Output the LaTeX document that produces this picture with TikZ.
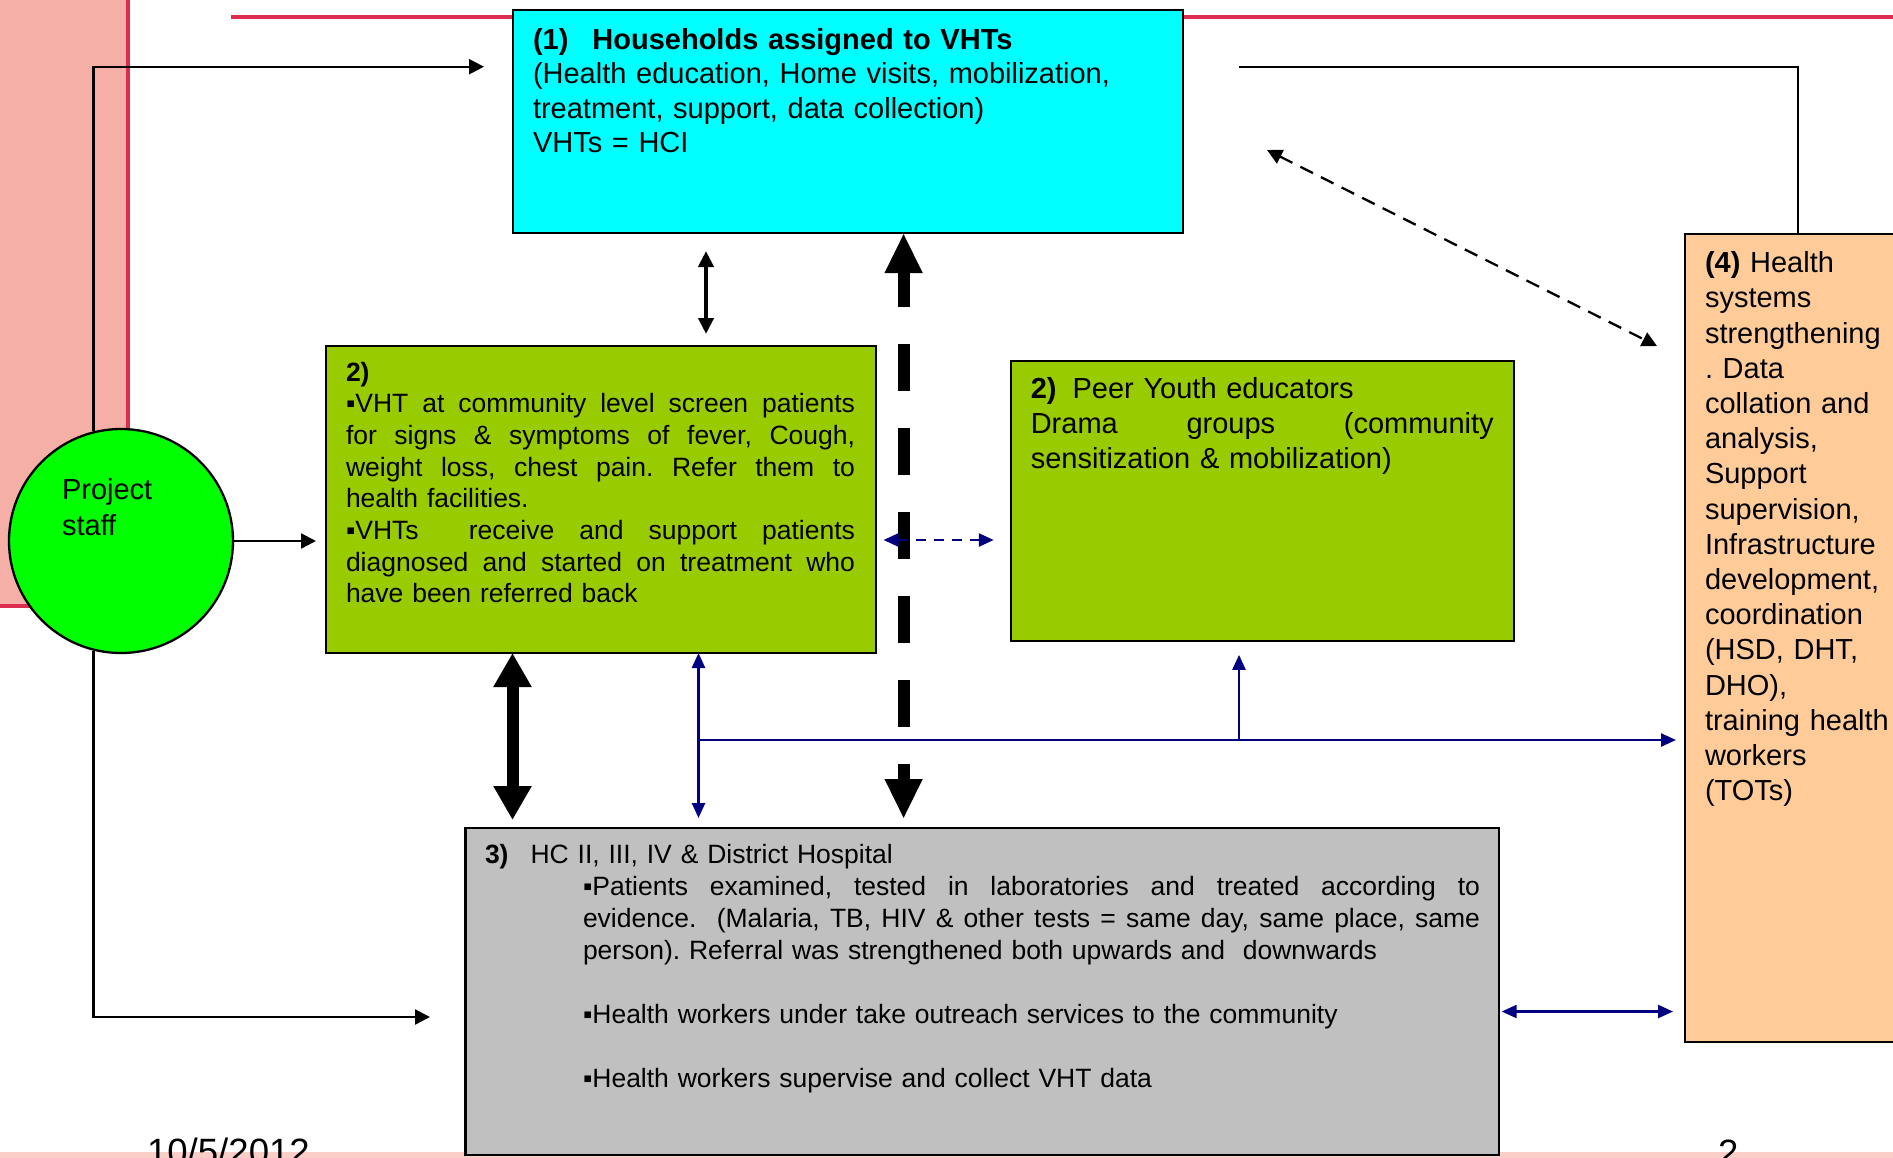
\documentclass[tikz,border=0pt]{standalone}
\usepackage{fontspec}
\setmainfont{Liberation Sans}
\usetikzlibrary{arrows.meta,calc}
\frenchspacing
\definecolor{cyanbox}{HTML}{00FFFF}
\definecolor{greenbox}{HTML}{99CC00}
\definecolor{greyb}{HTML}{C0C0C0}
\definecolor{orangeb}{HTML}{FFCC99}
\definecolor{circg}{HTML}{00FF00}
\definecolor{pinkr}{HTML}{F5AFA6}
\definecolor{redl}{HTML}{DC2C50}
\definecolor{navyb}{HTML}{000080}
\definecolor{footp}{HTML}{F9CFC8}
\newcommand\myfs[2]{\fontsize{#1pt}{#2pt}\selectfont}
\newcommand\jline[2]{\makebox[#1][s]{\spaceskip=0pt\xspaceskip=0pt\relax #2}}
\tikzset{
 box/.style={draw=black,line width=2.5pt,inner sep=0pt,outer sep=0pt},
 txt/.style={inner sep=0pt,outer sep=0pt,anchor=base west},
 thinblk/.style={draw=black,line width=2.3pt},
 tipa/.style={arrows={-Triangle[length=15pt,width=15pt]}},
 navyline/.style={draw=navyb,line width=2.5pt},
 navyone/.style={arrows={-Triangle[length=15pt,width=13pt]}},
 navytwo/.style={arrows={Triangle[length=15pt,width=13pt]-Triangle[length=15pt,width=13pt]}},
}
\begin{document}
\begin{tikzpicture}[x=1pt,y=-1pt]
\useasboundingbox (0,0) rectangle (1893,1157);
% background decoration
\fill[pinkr] (-10,-10) rectangle (128,606);
\draw[redl,line width=4pt] (128,-10) -- (128,606) -- (-10,606);
\draw[redl,line width=4pt] (231,17) -- (1900,17);
\fill[footp] (-5,1152) rectangle (1900,1165);

% boxes
\node[box,fill=cyanbox,minimum width=670pt,minimum height=223pt] (hh) at (848,121.5) {};
\node[box,fill=greenbox,minimum width=550pt,minimum height=307pt] (g1) at (601,499.5) {};
\node[box,fill=greenbox,minimum width=503pt,minimum height=280pt] (g2) at (1262.25,500.85) {};
\node[box,fill=greyb,minimum width=1033.5pt,minimum height=327pt] (hc) at (982.25,991.5) {};
\node[box,fill=orangeb,minimum width=220pt,minimum height=808pt] (hs) at (1795,638) {};
\node[circle,draw=black,line width=2.3pt,fill=circg,minimum size=224pt,inner sep=0pt] (staff) at (121,541) {};

% coordinates
\coordinate (ta) at (484,66.7);
\coordinate (tb) at (430,1017);
\coordinate (tc) at (1239,66.7);
\coordinate (td) at (1798,66.7);
\coordinate (da) at (1267,150);
\coordinate (db) at (1657,346);
\coordinate (xsm) at (706,0);
\coordinate (xbig) at (903.6,0);
\coordinate (xthick) at (512.5,0);
\coordinate (xblue) at (698.5,0);
\coordinate (bj) at (698.5,740);
\coordinate (bu) at (1239,740);
\coordinate (bd) at (0,540);
\coordinate (be) at (0,1011.5);

% black connectors
\draw[thinblk,tipa] (staff.104) |- (ta);
\draw[thinblk,tipa,shorten >=10pt] (staff.east) -- (g1.west |- staff.east);
\draw[thinblk,tipa] (staff.256) |- (tb);
\draw[thinblk] (tc) -- (td) -- (td |- hs.north);
\draw[thinblk,dash pattern=on 14pt off 9pt,arrows={Triangle[length=15pt,width=15pt]-Triangle[length=15pt,width=15pt]}] (da) -- (db);
\draw[draw=black,line width=4pt,arrows={Triangle[length=16pt,width=15pt]-Triangle[length=16pt,width=15pt]},shorten <=18pt,shorten >=12pt] (hh.south -| xsm) -- (g1.north -| xsm);
\draw[draw=black,line width=12pt,dash pattern=on 47pt off 37pt,dash phase=11pt,arrows={Triangle[length=40pt,width=35pt]-Triangle[length=40pt,width=35pt]},shorten >=9pt] (hh.south -| xbig) -- (hc.north -| xbig);
\draw[draw=black,line width=12pt,arrows={Triangle[length=34pt,width=36pt]-Triangle[length=34pt,width=36pt]},shorten >=8pt] (g1.south -| xthick) -- (hc.north -| xthick);

% navy connectors
\draw[navyline,navytwo,shorten >=10pt] (g1.south -| xblue) -- (hc.north -| xblue);
\draw[navyline,navyone,shorten >=9pt] (bj) -- (hs.west |- bj);
\draw[navyline,navyone,shorten >=14pt] (bu) -- (bu |- g2.south);
\draw[navyline,navytwo,dash pattern=on 10pt off 8pt,shorten <=7.5pt,shorten >=17pt] (g1.east |- bd) -- (g2.west |- bd);
\draw[navyline,navytwo,shorten <=2.7pt,shorten >=12pt] (hc.east |- be) -- (hs.west |- be);

% texts
\node[txt,text width=640pt,font=\myfs{29}{34.5}] (hhtext) at (533,49) {\textbf{(1)\hspace{24pt}Households assigned to VHTs}\\
(Health education, Home visits, mobilization,\\
treatment, support, data collection)\\
VHTs = HCI};

\node[txt,text width=509pt,font=\myfs{26.5}{31.7}] (g1text) at (346,381) {\textbf{2)}\\
\jline{509pt}{▪VHT at community level screen patients}\\
\jline{509pt}{for signs \& symptoms of fever, Cough,}\\
\jline{509pt}{weight loss, chest pain. Refer them to}\\
health facilities.\\
\jline{509pt}{▪VHTs\ \ receive and support patients}\\
\jline{509pt}{diagnosed and started on treatment who}\\
have been referred back};

\node[txt,text width=463pt,font=\myfs{29}{35}] (g2text) at (1030.8,398) {\textbf{2)}\hspace{16pt}Peer Youth educators\\
\jline{463pt}{Drama groups (community}\\
sensitization \& mobilization)};

\node[txt,text width=995pt,font=\myfs{26.5}{32}] (hctext) at (485,863) {\textbf{3)}\hspace{22pt}HC II, III, IV \& District Hospital\\
\hspace*{98pt}\jline{897pt}{▪Patients examined, tested in laboratories and treated according to}\\
\hspace*{98pt}\jline{897pt}{evidence.\ \ (Malaria, TB, HIV \& other tests = same day, same place, same}\\
\hspace*{98pt}person). Referral was strengthened both upwards and\ \ downwards\\[32pt]
\hspace*{98pt}▪Health workers under take outreach services to the community\\[32pt]
\hspace*{98pt}▪Health workers supervise and collect VHT data};

\node[txt,text width=200pt,font=\myfs{29}{35.2}] (hstext) at (1705,272.6) {\textbf{(4)} Health\\
systems\\
strengthening\\
. Data\\
collation and\\
analysis,\\
Support\\
supervision,\\
Infrastructure\\
development,\\
coordination\\
(HSD, DHT,\\
DHO),\\
training health\\
workers\\
(TOTs)};

\node[txt,text width=150pt,font=\myfs{29}{36}] (stafftext) at (62,499) {Project\\staff};

\node[txt,font=\myfs{36.6}{40}] (date) at (147,1164) {10/5/2012};
\node[txt,font=\myfs{36.6}{40}] (pg) at (1718,1165) {2};
\end{tikzpicture}
\end{document}
